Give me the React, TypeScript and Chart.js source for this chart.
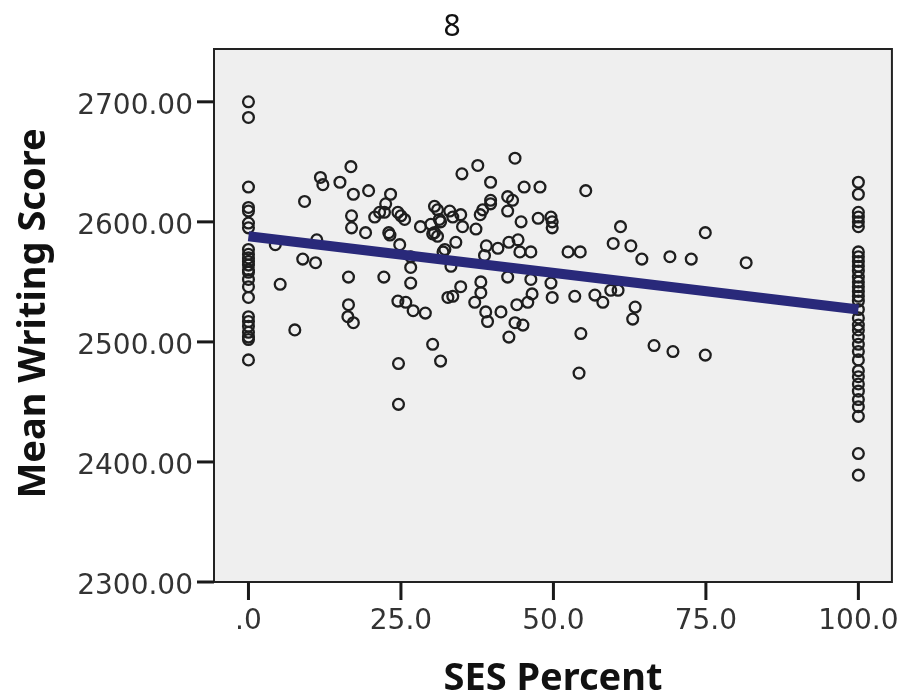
import React, { useEffect, useRef } from "react";
import { Chart, registerables } from "chart.js";

Chart.register(...registerables);

const chartTitle = "8";
const xAxisTitle = "SES Percent";
const yAxisTitle = "Mean Writing Score";

const xTicks = [0, 25, 50, 75, 100];
const yTicks = [2300, 2400, 2500, 2600, 2700];

// Schools with SES Percent = 0
const zeroSesScores = [
  2700, 2687, 2629, 2612, 2609, 2599, 2595, 2577, 2573, 2570, 2567, 2564,
  2560, 2558, 2552, 2546, 2537, 2521, 2517, 2513, 2508, 2504, 2502, 2485,
];

// Schools with SES Percent = 100
const fullSesScores = [
  2633, 2623, 2608, 2604, 2600, 2596, 2575, 2571, 2567, 2563, 2559, 2554,
  2550, 2546, 2542, 2538, 2534, 2527, 2520, 2514, 2510, 2504, 2498, 2492,
  2485, 2476, 2471, 2465, 2459, 2452, 2446, 2438, 2407, 2389,
];

// Schools in between
const midSes = [
  4.4, 5.2, 7.6, 9.2, 8.9, 11, 11.2, 11.8, 12.2, 15, 16.8, 17.2, 19.7, 16.9,
  16.9, 19.2, 23.3, 22.5, 22.3, 20.7, 21.5, 24.5, 25, 25.6, 23, 23.2, 24.8,
  28.2, 30.5, 30.5, 31.5, 16.4, 22.2, 26.6, 26.6, 16.4, 16.3, 17.2, 24.5, 25.8,
  27, 29, 30.2, 31.5, 24.6, 24.6, 32.7, 35, 37.6, 43.7, 39.7, 45.2, 47.8, 55.3,
  39.7, 39.7, 42.5, 43.3, 42.5, 33, 33.5, 34.8, 35.1, 31, 38, 38.4, 37.3, 44.7,
  47.5, 49.6, 49.8, 49.8, 61, 59.8, 62.7, 64.5, 69.1, 72.6, 74.9, 81.6, 74.9,
  34, 32.2, 31, 39, 40.9, 42.7, 44.2, 44.5, 46.3, 38.7, 52.4, 54.4, 33.2, 42.5,
  46.3, 49.6, 38.1, 34.8, 33.5, 38.1, 37.1, 38.9, 41.4, 44, 45.8, 46.5, 49.8,
  53.5, 56.8, 58.1, 59.4, 60.6, 63.4, 63, 39.2, 43.7, 45, 54.5, 42.7, 54.2,
  66.5, 69.6, 26.6, 31.9, 29.9, 30.2, 31.3,
];
const midScores = [
  2581, 2548, 2510, 2617, 2569, 2566, 2585, 2637, 2631, 2633, 2646, 2623, 2626,
  2605, 2595, 2591, 2623, 2615, 2608, 2604, 2608, 2608, 2605, 2602, 2591, 2589,
  2581, 2596, 2591, 2613, 2600, 2554, 2554, 2562, 2549, 2531, 2521, 2516, 2534,
  2533, 2526, 2524, 2498, 2484, 2482, 2448, 2537, 2640, 2647, 2653, 2633, 2629,
  2629, 2626, 2618, 2615, 2621, 2618, 2609, 2609, 2604, 2606, 2596, 2610, 2606,
  2610, 2594, 2600, 2603, 2604, 2600, 2595, 2596, 2582, 2580, 2569, 2571, 2569,
  2591, 2566, 2489, 2583, 2577, 2588, 2580, 2578, 2583, 2585, 2575, 2575, 2572,
  2575, 2575, 2563, 2554, 2552, 2549, 2550, 2546, 2538, 2541, 2533, 2525, 2525,
  2531, 2533, 2540, 2537, 2538, 2539, 2533, 2543, 2543, 2529, 2519, 2517, 2516,
  2514, 2507, 2504, 2474, 2497, 2492, 2571, 2575, 2598, 2590, 2602,
];

// Linear fit line end points
const fitX = [0, 100];
const fitY = [2588, 2527];

const X_MIN = -5.65;
const X_MAX = 105.5;
const Y_MIN = 2300;
const Y_MAX = 2744;

const X_TICK_LEN = 18;
const Y_TICK_LEN = 17;

const framePlugin = {
  id: "frameAndTitles",
  beforeDatasetsDraw(chart: any) {
    const { ctx, chartArea } = chart;
    ctx.save();
    ctx.fillStyle = "#efefef";
    ctx.fillRect(chartArea.left, chartArea.top, chartArea.right - chartArea.left, chartArea.bottom - chartArea.top);
    ctx.restore();
  },
  afterDraw(chart: any) {
    const { ctx, chartArea } = chart;
    const xs = chart.scales.x;
    const ys = chart.scales.y;
    ctx.save();
    ctx.strokeStyle = "#222";
    ctx.lineWidth = 2;
    ctx.strokeRect(chartArea.left, chartArea.top, chartArea.right - chartArea.left, chartArea.bottom - chartArea.top);

    // tick marks drawn as filled bars
    ctx.fillStyle = "#1a1a1a";
    for (const v of xTicks) {
      const px = xs.getPixelForValue(v);
      ctx.fillRect(px - 1.5, chartArea.bottom, 3, X_TICK_LEN);
    }
    for (const v of yTicks) {
      const py = ys.getPixelForValue(v);
      ctx.fillRect(chartArea.left - Y_TICK_LEN, py - 1.5, Y_TICK_LEN, 3);
    }

    ctx.fillStyle = "#111";
    ctx.textAlign = "center";
    ctx.textBaseline = "alphabetic";
    ctx.font = "30px 'Noto Sans'";
    ctx.fillText(chartTitle, 452, 36);

    ctx.font = "bold 38px 'Noto Sans'";
    ctx.fillText(xAxisTitle, (chartArea.left + chartArea.right) / 2, 690);

    ctx.translate(45, (chartArea.top + chartArea.bottom) / 2 - 2);
    ctx.rotate(-Math.PI / 2);
    ctx.fillText(yAxisTitle, 0, 0);
    ctx.restore();
  },
};

export default function App() {
  const ref = useRef<HTMLCanvasElement | null>(null);

  useEffect(() => {
    if (!ref.current) return;
    const points = [
      ...zeroSesScores.map((y) => ({ x: 0, y })),
      ...fullSesScores.map((y) => ({ x: 100, y })),
      ...midSes.map((x, i) => ({ x, y: midScores[i] })),
    ];
    const fit = fitX.map((x, i) => ({ x, y: fitY[i] }));
    const tickFont = { family: "'DejaVu Sans'", size: 28 };

    const chart = new Chart(ref.current, {
      type: "scatter",
      data: {
        datasets: [
          {
            label: "Fit",
            data: fit,
            showLine: true,
            borderColor: "#29297a",
            borderWidth: 10,
            borderCapStyle: "butt",
            pointRadius: 0,
            fill: false,
            order: 0,
          } as any,
          {
            label: "Schools",
            data: points,
            showLine: false,
            pointRadius: 5.4,
            pointBorderWidth: 2.3,
            pointBorderColor: "#1e1e1e",
            pointBackgroundColor: "rgba(0,0,0,0)",
            order: 1,
          } as any,
        ],
      },
      options: {
        responsive: false,
        maintainAspectRatio: false,
        animation: false,
        layout: { padding: { top: 49, right: 11, left: 0, bottom: 0 } },
        plugins: {
          legend: { display: false },
          tooltip: { enabled: false },
          title: { display: false },
        },
        scales: {
          x: {
            type: "linear",
            min: X_MIN,
            max: X_MAX,
            afterBuildTicks: (s: any) => {
              s.ticks = xTicks.map((v) => ({ value: v }));
            },
            afterFit: (s: any) => {
              s.height = 118;
            },
            border: { display: false },
            grid: {
              display: true,
              drawOnChartArea: false,
              drawTicks: true,
              tickLength: X_TICK_LEN,
              color: "rgba(0,0,0,0)",
            },
            ticks: {
              callback: (v: any) => (Number(v) === 0 ? ".0" : Number(v).toFixed(1)),
              font: tickFont,
              color: "#333",
              padding: 5,
              maxRotation: 0,
              autoSkip: false,
            },
          },
          y: {
            type: "linear",
            min: Y_MIN,
            max: Y_MAX,
            afterBuildTicks: (s: any) => {
              s.ticks = yTicks.map((v) => ({ value: v }));
            },
            afterFit: (s: any) => {
              s.width = 214;
            },
            border: { display: false },
            grid: {
              display: true,
              drawOnChartArea: false,
              drawTicks: true,
              tickLength: Y_TICK_LEN,
              color: "rgba(0,0,0,0)",
            },
            ticks: {
              callback: (v: any) => Number(v).toFixed(2),
              font: tickFont,
              color: "#333",
              padding: 4,
              labelOffset: 5,
              autoSkip: false,
            },
          },
        },
      },
      plugins: [framePlugin],
    });
    return () => chart.destroy();
  }, []);

  return (
    <div style={{ position: "absolute", left: 0, top: 0, width: 904, height: 700, background: "#fff" }}>
      <canvas ref={ref} width={904} height={700} style={{ display: "block", width: 904, height: 700 }} />
    </div>
  );
}
